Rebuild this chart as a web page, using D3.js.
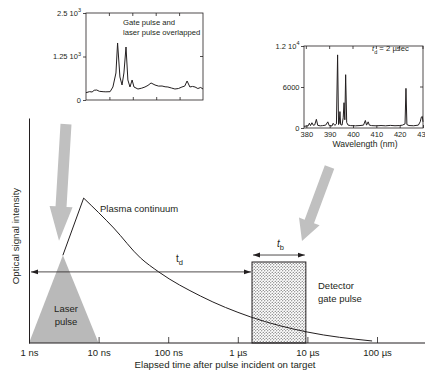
<!DOCTYPE html>
<html><head><meta charset="utf-8">
<script src="https://cdn.jsdelivr.net/npm/d3@7"></script>
<style>
body{margin:0;background:#fff}
svg{display:block}
text{font-family:"Liberation Sans",Arial,sans-serif;fill:#231f20}
</style>
</head><body>
<svg id="c" width="425" height="377"></svg>
<script>
// ---------- main timing chart data ----------
const timeTicks = [1e-9, 1e-8, 1e-7, 1e-6, 1e-5, 1e-4];
const timeTickLabels = ["1 ns", "10 ns", "100 ns", "1 µs", "10 µs", "100 µs"];
const laserTime = [1e-9, 3.07e-9, 1e-8];
const laserIntensity = [0, 0.39, 0];
const plasmaRiseTime = [3.07e-9, 6.1e-9];
const plasmaRiseIntensity = [0.39, 0.644];
const plasmaDecayTime = [6.1e-9, 1.65e-8, 4.0e-8, 7.3e-8, 2.9e-7, 1.52e-6, 9.9e-6, 8.5e-5];
const plasmaDecayIntensity = [0.644, 0.511, 0.378, 0.316, 0.209, 0.116, 0.049, 0.009];
const gateStart = 1.6e-6, gateEnd = 9.5e-6, gateLevel = 0.36;
const delayLevel = 0.316, widthLevel = 0.391;

// ---------- inset 1 : gate and laser pulse overlapped ----------
const spec1Wavelength = [380, 381.5, 382.6, 383.5, 384.6, 385.7, 387.3, 388.5, 390.3, 391.5, 392.8, 393.5, 394.5, 395.4, 396.2, 397.1, 397.9, 398.8, 399.7, 400.5, 402.2, 403.8, 405.2, 406.5, 407.8, 409.5, 411, 412.5, 413.8, 415, 416.5, 418, 419.5, 421, 422.2, 423.2, 424.4, 425.5, 426.6, 427.8, 429, 430];
const spec1Counts    = [210, 240, 230, 280, 287, 250, 239, 235, 239, 374, 776, 1638, 661, 431, 776, 1523, 575, 374, 575, 374, 316, 340, 374, 420, 489, 431, 400, 402, 380, 374, 345, 316, 330, 374, 400, 546, 374, 390, 374, 330, 360, 316];
const spec1YTicks = [0, 1250, 2500];
const spec1YLabels = [["0", ""], ["1.25 10", "3"], ["2.5 10", "3"]];
const spec1XTicks = [390, 400, 410, 420];

// ---------- inset 2 : td = 2 µsec ----------
const spec2Wavelength = [379, 380, 380.8, 381.3, 381.8, 382.4, 383, 383.6, 384.3, 384.9, 386, 387, 388.3, 389.2, 389.8, 391, 391.5, 392.2, 392.9, 393.4, 393.8, 394.1, 394.4, 394.7, 395.3, 395.8, 396.15, 396.5, 396.85, 397.3, 397.9, 399, 401, 403, 404.5, 405.3, 405.8, 406.5, 407, 408, 410, 412, 414, 416, 418, 420, 421.2, 422.3, 422.7, 423.1, 424, 426, 428, 428.8, 429.3, 429.7, 430];
const spec2Counts    = [250, 280, 320, 700, 350, 770, 400, 450, 1270, 380, 320, 350, 420, 900, 350, 300, 690, 380, 600, 10700, 500, 700, 2400, 500, 420, 1500, 3700, 1200, 7800, 800, 420, 350, 320, 360, 420, 1100, 420, 900, 420, 350, 320, 360, 320, 380, 330, 360, 420, 600, 5800, 500, 360, 330, 420, 900, 1600, 1700, 900];
const spec2YTicks = [0, 6000, 12000];
const spec2YLabels = [["0", ""], ["6000", ""], ["1.2 10", "4"]];
const spec2XTicks = [380, 390, 400, 410, 420, 430];

const ink = "#231f20";
const svg = d3.select("#c");

// pattern for detector gate
const defs = svg.append("defs");
const pat = defs.append("pattern").attr("id", "dots").attr("patternUnits", "userSpaceOnUse")
  .attr("width", 3).attr("height", 3);
pat.append("rect").attr("width", 3).attr("height", 3).attr("fill", "#fff");
pat.append("circle").attr("cx", 0.75).attr("cy", 0.75).attr("r", 0.62).attr("fill", "#4a4a4a");
pat.append("circle").attr("cx", 2.25).attr("cy", 2.25).attr("r", 0.62).attr("fill", "#4a4a4a");

// ---------- main scales ----------
const x = d3.scaleLog().domain([1e-9, 1e-4]).range([29, 377]);
const y = d3.scaleLinear().domain([0, 1]).range([343, 118]);

// big gray arrows (annotation anchors in data units)
const arrowSpecs = [
  {tail: [3.4e-9, 0.973], tip: [2.7e-9, 0.455], shaftW: 11, headW: 23, headL: 34},
  {tail: [2.08e-5, 0.782], tip: [8.36e-6, 0.453], shaftW: 10, headW: 22, headL: 21}
];
function arrowPoly(s) {
  const x0 = x(s.tail[0]), y0 = y(s.tail[1]), x1 = x(s.tip[0]), y1 = y(s.tip[1]);
  const L = Math.hypot(x1 - x0, y1 - y0), ux = (x1 - x0) / L, uy = (y1 - y0) / L;
  const px = -uy, py = ux;
  const bx = x1 - ux * s.headL, by = y1 - uy * s.headL;
  const hw = s.shaftW / 2, hh = s.headW / 2;
  return [
    [x0 + px * hw, y0 + py * hw], [bx + px * hw, by + py * hw], [bx + px * hh, by + py * hh],
    [x1, y1],
    [bx - px * hh, by - py * hh], [bx - px * hw, by - py * hw], [x0 - px * hw, y0 - py * hw]
  ];
}

// laser pulse triangle
const laserData = laserTime.map((t, i) => [t, laserIntensity[i]]);
svg.append("path").datum(laserData)
  .attr("d", d3.area().x(d => x(d[0])).y0(y(0)).y1(d => y(d[1])))
  .attr("fill", "#b9b9b9");

// gate box
svg.append("rect").attr("x", x(gateStart)).attr("y", y(gateLevel))
  .attr("width", x(gateEnd) - x(gateStart)).attr("height", y(0) - y(gateLevel))
  .attr("fill", "url(#dots)").attr("stroke", ink).attr("stroke-width", 1);

// plasma continuum
const rise = plasmaRiseTime.map((t, i) => [t, plasmaRiseIntensity[i]]);
const decay = plasmaDecayTime.map((t, i) => [t, plasmaDecayIntensity[i]]);
svg.append("path").datum(rise).attr("d", d3.line().x(d => x(d[0])).y(d => y(d[1])))
  .attr("fill", "none").attr("stroke", ink).attr("stroke-width", 1);
svg.append("path").datum(decay).attr("d", d3.line().curve(d3.curveMonotoneX).x(d => x(d[0])).y(d => y(d[1])))
  .attr("fill", "none").attr("stroke", ink).attr("stroke-width", 1);

// arrows gray
svg.selectAll("polygon.big").data(arrowSpecs).join("polygon").attr("class", "big")
  .attr("points", d => arrowPoly(d).map(p => p.join(",")).join(" "))
  .attr("fill", "#c0c0c0");

// axes
const gx = svg.append("g").attr("transform", `translate(0,${y(0)})`)
  .call(d3.axisBottom(x).tickValues(timeTicks).tickFormat((d, i) => timeTickLabels[i])
    .tickSizeInner(-6).tickSizeOuter(0).tickPadding(6));
gx.attr("font-family", null).attr("font-size", null);
gx.select(".domain").remove();
gx.selectAll(".tick line").attr("stroke", ink).attr("stroke-width", 0.8);
gx.selectAll(".tick text").attr("font-size", 9.5).attr("fill", ink);
svg.append("line").attr("x1", x(1e-9)).attr("x2", 425).attr("y1", y(0)).attr("y2", y(0))
  .attr("stroke", ink).attr("stroke-width", 1);
const gy = svg.append("g").attr("transform", `translate(${x(1e-9)},0)`)
  .call(d3.axisLeft(y).tickValues([]).tickSizeOuter(0));
gy.select(".domain").attr("stroke", ink).attr("stroke-width", 1);

svg.append("text").attr("x", 225).attr("y", 368).attr("text-anchor", "middle").attr("font-size", 9.7)
  .text("Elapsed time after pulse incident on target");
svg.append("text").attr("transform", "translate(19,236) rotate(-90)").attr("text-anchor", "middle")
  .attr("font-size", 9.7).text("Optical signal intensity");

// dimension arrows
defs.append("marker").attr("id", "ah").attr("viewBox", "0 0 10 10").attr("refX", 10).attr("refY", 5)
  .attr("markerWidth", 7).attr("markerHeight", 7).attr("markerUnits", "userSpaceOnUse")
  .attr("orient", "auto-start-reverse")
  .append("path").attr("d", "M0,1.5 L10,5 L0,8.5 Z").attr("fill", ink);
svg.append("line").attr("x1", x(1e-9) + 2).attr("x2", x(gateStart) - 1)
  .attr("y1", y(delayLevel)).attr("y2", y(delayLevel))
  .attr("stroke", ink).attr("stroke-width", 0.8)
  .attr("marker-start", "url(#ah)").attr("marker-end", "url(#ah)");
svg.append("line").attr("x1", x(gateStart) + 1).attr("x2", x(gateEnd) - 1)
  .attr("y1", y(widthLevel)).attr("y2", y(widthLevel))
  .attr("stroke", ink).attr("stroke-width", 0.8)
  .attr("marker-start", "url(#ah)").attr("marker-end", "url(#ah)");

// labels
const td = svg.append("text").attr("x", 176).attr("y", 262).attr("font-size", 10);
td.append("tspan").text("t");
td.append("tspan").attr("dy", 3).attr("font-size", 7.5).text("d");
const tb = svg.append("text").attr("x", 277).attr("y", 247).attr("font-size", 10);
tb.append("tspan").attr("font-style", "italic").text("t");
tb.append("tspan").attr("dy", 3).attr("font-size", 7.5).text("b");

svg.append("text").attr("x", 100).attr("y", 212).attr("font-size", 9.5).text("Plasma continuum");
svg.append("text").attr("x", 318).attr("y", 289).attr("font-size", 9.5).text("Detector");
svg.append("text").attr("x", 318).attr("y", 301.5).attr("font-size", 9.5).text("gate pulse");
svg.append("text").attr("x", 66).attr("y", 312).attr("text-anchor", "middle").attr("font-size", 9.5).text("Laser");
svg.append("text").attr("x", 66).attr("y", 324.5).attr("text-anchor", "middle").attr("font-size", 9.5).text("pulse");

// ---------- inset drawing helper ----------
function inset(o) {
  const g = svg.append("g");
  const sx = d3.scaleLinear().domain(o.xDomain).range(o.xRange);
  const sy = d3.scaleLinear().domain(o.yDomain).range(o.yRange);
  const [l, r] = o.xRange, [b, t] = o.yRange;
  g.append("path").datum(o.wl.map((w, i) => [w, o.val[i]]))
    .attr("d", d3.line().x(d => sx(d[0])).y(d => sy(d[1])))
    .attr("fill", "none").attr("stroke", ink).attr("stroke-width", 1).attr("stroke-linejoin", "round");
  g.append("rect").attr("x", l).attr("y", t).attr("width", r - l).attr("height", b - t)
    .attr("fill", "none").attr("stroke", ink).attr("stroke-width", 0.8);
  const ga = g.append("g").attr("transform", `translate(${l},0)`)
    .call(d3.axisLeft(sy).tickValues(o.yTicks).tickSizeInner(3).tickSizeOuter(0).tickPadding(o.yPad)
      .tickFormat(() => ""));
  ga.attr("font-family", null).attr("font-size", null);
  ga.select(".domain").remove();
  ga.selectAll(".tick line").attr("stroke", ink).attr("stroke-width", 0.8);
  ga.selectAll(".tick text").each(function (d, i) {
    const tx = d3.select(this).attr("font-size", 7.5).attr("fill", ink);
    tx.append("tspan").text(o.yLabels[i][0]);
    if (o.yLabels[i][1]) tx.append("tspan").attr("dy", -3.5).attr("font-size", 5.5).text(o.yLabels[i][1]);
  });
  g.selectAll("line.rt").data(o.yTicks.slice(1, -1)).join("line").attr("class", "rt")
    .attr("x1", r - 3).attr("x2", r).attr("y1", d => sy(d)).attr("y2", d => sy(d))
    .attr("stroke", ink).attr("stroke-width", 0.8);
  const gb = g.append("g").attr("transform", `translate(0,${b})`)
    .call(d3.axisBottom(sx).tickValues(o.xTicks).tickSizeInner(-3).tickSizeOuter(0).tickPadding(4)
      .tickFormat(o.xLabels ? d3.format("d") : () => ""));
  gb.attr("font-family", null).attr("font-size", null);
  gb.select(".domain").remove();
  gb.selectAll(".tick line").attr("stroke", ink).attr("stroke-width", 0.8);
  gb.selectAll(".tick text").attr("font-size", 7.5).attr("fill", ink);
  g.selectAll("line.tp").data(o.xTicks).join("line").attr("class", "tp")
    .attr("x1", d => sx(d)).attr("x2", d => sx(d)).attr("y1", t).attr("y2", t + 3)
    .attr("stroke", ink).attr("stroke-width", 0.8);
  return g;
}

inset({xDomain: [380, 430], xRange: [86, 203], yDomain: [0, 2500], yRange: [100, 13],
  wl: spec1Wavelength, val: spec1Counts, yTicks: spec1YTicks, yLabels: spec1YLabels,
  xTicks: spec1XTicks, xLabels: false, yPad: 2});
svg.append("text").attr("x", 123).attr("y", 25).attr("font-size", 7.7).text("Gate pulse and");
svg.append("text").attr("x", 123).attr("y", 35).attr("font-size", 7.7).text("laser pulse overlapped");

inset({xDomain: [379, 430], xRange: [304, 423], yDomain: [0, 12000], yRange: [128, 46],
  wl: spec2Wavelength, val: spec2Counts, yTicks: spec2YTicks, yLabels: spec2YLabels,
  xTicks: spec2XTicks, xLabels: true, yPad: 1.5});
svg.append("text").attr("x", 365).attr("y", 147).attr("text-anchor", "middle").attr("font-size", 8.6)
  .text("Wavelength (nm)");
const tdl = svg.append("text").attr("x", 372).attr("y", 51).attr("font-size", 7.7);
tdl.append("tspan").attr("font-style", "italic").text("t");
tdl.append("tspan").attr("dy", 2.5).attr("font-size", 5.5).text("d");
tdl.append("tspan").attr("dy", -2.5).text(" = 2 µsec");
</script>
</body></html>
